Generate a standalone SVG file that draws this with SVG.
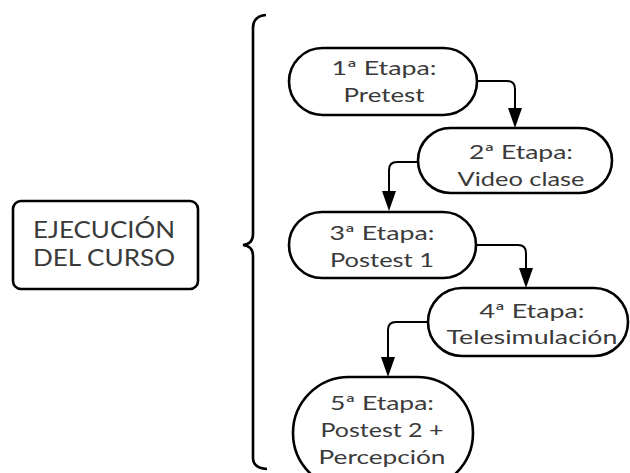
<svg xmlns="http://www.w3.org/2000/svg" width="630" height="473" viewBox="0 0 630 473">
<defs>
<style>
.n{fill:#fff;stroke:#000;stroke-width:2.6}
.t{font-family:Lato,"Open Sans","Liberation Sans",sans-serif;font-size:19px;fill:#3a3a3a;text-anchor:middle}
.b{font-size:23px}
.c{fill:none;stroke:#000;stroke-width:2}
.h{fill:#000}
</style>
</defs>
<rect width="630" height="473" fill="#fff"/>
<g id="main">
<rect class="n" x="13" y="201" width="185" height="88" rx="8"/>
<text class="t b" x="104" y="238" textLength="142" lengthAdjust="spacingAndGlyphs">EJECUCIÓN</text>
<text class="t b" x="104" y="266" textLength="142" lengthAdjust="spacingAndGlyphs">DEL CURSO</text>
</g>
<g id="brace">
<path d="M266,15 Q253,16 253,28 L253,234 Q253,244 243,245 Q253,246 253,256 L253,458 Q253,468 267,469" fill="none" stroke="#000" stroke-width="2.6"/>
</g>
<g id="connectors">
<path class="c" d="M477,81 L507,81 Q515,81 515,89 L515,108"/>
<path class="h" d="M508,108 L522,108 L515,128 Z"/>
<path class="c" d="M418,162 L397,162 Q389,162 389,170 L389,191"/>
<path class="h" d="M382,191 L396,191 L389,211 Z"/>
<path class="c" d="M476,245 L518,245 Q526,245 526,253 L526,268"/>
<path class="h" d="M519,268 L533,268 L526,288 Z"/>
<path class="c" d="M428,322 L396,322 Q388,322 388,330 L388,357"/>
<path class="h" d="M381,357 L395,357 L388,377 Z"/>
</g>
<g id="n1">
<rect class="n" x="289" y="48" width="188" height="67" rx="33.5"/>
<text class="t" x="384" y="75" textLength="105" lengthAdjust="spacingAndGlyphs">1ª Etapa:</text>
<text class="t" x="384" y="102" textLength="81" lengthAdjust="spacingAndGlyphs">Pretest</text>
</g>
<g id="n2">
<rect class="n" x="418" y="128" width="194" height="65" rx="32.5"/>
<text class="t" x="521" y="159" textLength="104" lengthAdjust="spacingAndGlyphs">2ª Etapa:</text>
<text class="t" x="521" y="186" textLength="127" lengthAdjust="spacingAndGlyphs">Video clase</text>
</g>
<g id="n3">
<rect class="n" x="289" y="212" width="187" height="66" rx="33"/>
<text class="t" x="382" y="240" textLength="105" lengthAdjust="spacingAndGlyphs">3ª Etapa:</text>
<text class="t" x="382" y="267" textLength="104" lengthAdjust="spacingAndGlyphs">Postest 1</text>
</g>
<g id="n4">
<rect class="n" x="428" y="288" width="200" height="68" rx="34"/>
<text class="t" x="532" y="318" textLength="105" lengthAdjust="spacingAndGlyphs">4ª Etapa:</text>
<text class="t" x="532" y="344" textLength="171" lengthAdjust="spacingAndGlyphs">Telesimulación</text>
</g>
<g id="n5">
<rect class="n" x="293" y="377" width="180" height="112" rx="56"/>
<text class="t" x="382" y="410" textLength="104" lengthAdjust="spacingAndGlyphs">5ª Etapa:</text>
<text class="t" x="382" y="437" textLength="123" lengthAdjust="spacingAndGlyphs">Postest 2 +</text>
<text class="t" x="382" y="464" textLength="127" lengthAdjust="spacingAndGlyphs">Percepción</text>
</g>
</svg>
